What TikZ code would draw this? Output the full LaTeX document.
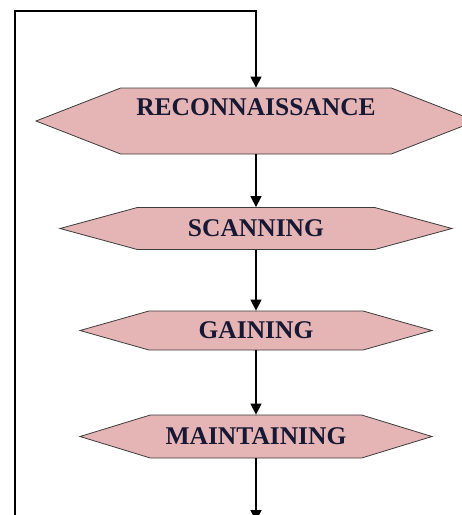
\documentclass[tikz,border=0pt]{standalone}
\usepackage{fontspec}
\setmainfont{Liberation Serif}
\usetikzlibrary{shapes.symbols,arrows.meta}
\definecolor{hexfill}{RGB}{229,180,180}
\definecolor{hexline}{RGB}{60,60,60}
\definecolor{hexink}{RGB}{22,24,52}
\begin{document}
\begin{tikzpicture}[
        x=1pt, y=-1pt,
        font=\fontsize{25.5}{29}\selectfont\bfseries,
        phase/.style  ={signal, signal to=west and east, draw=hexline, fill=hexfill,
                        line width=0.8pt, inner sep=0pt, text=hexink},
        arr/.style    ={-{Triangle[length=11pt, width=11pt]}, line width=1.3pt},
    ]
    \useasboundingbox (0,0) rectangle (462,515);

    %% Phases
    \node[phase, minimum width=440pt, minimum height=66pt, signal pointer angle=42.6]
        (recon) at (256, 121) {\raisebox{6pt}[0pt][0pt]{RECONNAISSANCE}};
    \node[phase, minimum width=392pt, minimum height=42pt, signal pointer angle=30.4]
        (scan)  at (256, 228.5) {SCANNING};
    \node[phase, minimum width=352pt, minimum height=39pt, signal pointer angle=31.6]
        (gain)  at (256, 330.5) {GAINING};
    \node[phase, minimum width=352pt, minimum height=43pt, signal pointer angle=34]
        (maint) at (256, 436.5) {MAINTAINING};

    %% Loop back to the top
    \coordinate (loopbot) at (15, 515);
    \coordinate (looptop) at (15, 11);
    \coordinate (exit)    at (256, 521);

    %% Arrows
    \draw[arr] (loopbot) -- (looptop) -| (recon.north);
    \draw[arr] (recon.south) -- (scan.north);
    \draw[arr] (scan.south)  -- (gain.north);
    \draw[arr] (gain.south)  -- (maint.north);
    \draw[arr] (maint.south) -- (exit);

\end{tikzpicture}
\end{document}
